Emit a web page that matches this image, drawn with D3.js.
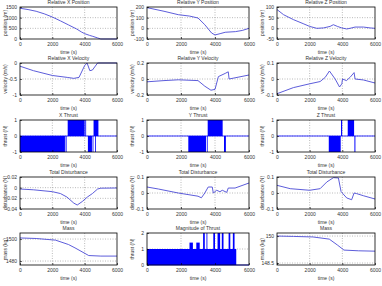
<!DOCTYPE html>
<html>
<head>
<meta charset="utf-8">
<script src="https://cdn.jsdelivr.net/npm/d3@7"></script>
<style>
  body { margin: 0; background: #fff; }
  svg text { font-family: "Liberation Sans", Arial, sans-serif; fill: #333; }
</style>
</head>
<body>
<div id="chart"></div>
<script>
// time axis shared by every panel
const timeTicks = [0, 2000, 4000, 6000];

// curve data, [time s, value]
const relXPos = [[0,1440],[500,1380],[1000,1300],[1500,1180],[2000,1030],[2500,850],[3000,660],[3500,470],[3800,330],[4000,250],[4300,170],[4500,125],[4800,50],[5000,0],[6000,0]];
const relYPos = [[0,194],[1000,160],[1840,128],[2500,115],[3000,97],[3400,34],[3800,-44],[4000,-62],[4300,-50],[4600,-37],[5200,-31],[5600,-20],[6000,0]];
const relZPos = [[0,88],[400,64],[1000,41],[1600,22],[2000,9],[2440,0],[2850,2],[3250,9],[3450,17],[3700,9],[3960,2],[4270,-3],[4470,0],[4780,6],[5290,6],[5700,2],[6000,0]];
const relXVel = [[0,-0.1],[830,-0.24],[2000,-0.39],[2920,-0.45],[3330,-0.48],[3650,-0.45],[4000,-0.08],[4150,0],[4320,-0.24],[4480,-0.22],[4800,0],[6000,0]];
const relYVel = [[0,-0.035],[1000,-0.02],[1840,-0.01],[3000,-0.02],[3400,-0.09],[3760,-0.14],[4000,-0.13],[4200,0.03],[4600,0.07],[4780,0.09],[4830,0],[5180,0.015],[6000,0.05]];
const relZVel = [[0,-0.092],[1000,-0.054],[2000,-0.03],[2640,-0.016],[2950,0.01],[3210,0.05],[3560,0],[3830,-0.05],[3970,-0.03],[4010,0],[4250,-0.01],[4470,0.01],[4720,0.04],[4780,0],[5290,-0.006],[6000,-0.025]];
const distX = [[0,-0.0025],[830,-0.004],[2000,-0.0075],[2500,-0.011],[2900,-0.0175],[3330,-0.029],[3540,-0.0325],[3850,-0.026],[4170,-0.0175],[4480,-0.011],[4800,-0.0025],[5000,-0.001],[6000,-0.0006]];
const distY = [[0,0.0375],[670,0.025],[1840,0],[3000,-0.02],[3200,-0.03],[3400,0],[3600,0.0375],[3840,0.0375],[3900,0],[4100,0.017],[4290,0.008],[4430,0.017],[4690,0.004],[4780,0.031],[5180,0.031],[6000,0.0625]];
const distZ = [[0,0.048],[810,0.027],[2000,0.017],[2640,0.027],[3050,0.069],[3460,0.096],[3760,0.094],[3920,0.01],[4030,-0.004],[4270,-0.031],[4570,-0.042],[4720,0],[4880,-0.004],[5290,-0.017],[6000,-0.0375]];
const massA = [[0,1501],[1000,1500.5],[2200,1499],[3000,1495],[3400,1492],[4250,1485],[5000,1484.5],[6000,1484.5]];
const massB = [[0,150],[1000,149.98],[2200,149.95],[3200,149.83],[3700,149.5],[4100,149.22],[5000,149.18],[6000,149.16]];

// thrust on/off intervals [start s, end s, level]
const thrustX = [[0,2780,-1],[2820,2880,-1],[2950,4000,1],[4040,4070,1],[4200,4450,-1],[4490,4510,-1],[4550,4850,1],[4640,4660,-1]];
const thrustY = [[2430,3470,-1],[3520,3540,-1],[3570,4450,1],[4530,4640,-1]];
const thrustZ = [[3170,3900,-1],[3920,3990,1],[4330,4720,1],[4740,4800,-1]];
const thrustMag = [[0,5250,1],[2500,2700,1.4],[2900,3100,1.4],[3300,3400,2],[3500,3550,2],[3900,4000,2],[4150,4300,2],[4400,4500,2],[4800,4900,2],[5050,5150,2]];

const panels = [
  {title: "Relative X Position", ylabel: "position (m)", yDomain: [0, 1500], yTicks: [0, 500, 1000, 1500], line: relXPos},
  {title: "Relative Y Position", ylabel: "position (m)", yDomain: [-100, 200], yTicks: [-100, 0, 100, 200], line: relYPos},
  {title: "Relative Z Position", ylabel: "position (m)", yDomain: [-50, 100], yTicks: [-50, 0, 50, 100], line: relZPos},
  {title: "Relative X Velocity", ylabel: "velocity (m/s)", yDomain: [-1, 0], yTicks: [-1, -0.5, 0], line: relXVel},
  {title: "Relative Y Velocity", ylabel: "velocity (m/s)", yDomain: [-0.2, 0.2], yTicks: [-0.2, 0, 0.2], line: relYVel},
  {title: "Relative Z Velocity", ylabel: "velocity (m/s)", yDomain: [-0.1, 0.1], yTicks: [-0.1, 0, 0.1], line: relZVel},
  {title: "X Thrust", ylabel: "thrust (N)", yDomain: [-1, 1], yTicks: [-1, 0, 1], bars: thrustX},
  {title: "Y Thrust", ylabel: "thrust (N)", yDomain: [-1, 1], yTicks: [-1, 0, 1], bars: thrustY},
  {title: "Z Thrust", ylabel: "thrust (N)", yDomain: [-1, 1], yTicks: [-1, 0, 1], bars: thrustZ},
  {title: "Total Disturbance", ylabel: "disturbance (N)", yDomain: [-0.04, 0.02], yTicks: [-0.04, -0.02, 0, 0.02], line: distX},
  {title: "Total Disturbance", ylabel: "disturbance (N)", yDomain: [-0.1, 0.1], yTicks: [-0.1, 0, 0.1], line: distY},
  {title: "Total Disturbance", ylabel: "disturbance (N)", yDomain: [-0.1, 0.1], yTicks: [-0.1, 0, 0.1], line: distZ},
  {title: "Mass", ylabel: "mass (kg)", yDomain: [1476.4, 1505.5], yTicks: [1480, 1500], line: massA},
  {title: "Magnitude of Thrust", ylabel: "thrust (N)", yDomain: [0, 2], yTicks: [0, 1, 2], bars: thrustMag},
  {title: "Mass", ylabel: "mass (kg)", yDomain: [148.39, 150.17], yTicks: [148.5, 150], line: massB}
];

const W = 382, H = 286;
const cols = [[20, 117], [147, 249], [277, 375]];
const rowTops = [7, 63, 120, 177, 233];
const ph = 32;
const lineColor = "#4b4bd6";
const fmt = d => String(d);

const svg = d3.select("#chart").append("svg")
  .attr("width", W).attr("height", H);

panels.forEach((p, i) => {
  const c = cols[i % 3], top = rowTops[Math.floor(i / 3)];
  const x = d3.scaleLinear().domain([0, 6000]).range([c[0], c[1]]);
  const y = d3.scaleLinear().domain(p.yDomain).range([top + ph, top]);
  const g = svg.append("g");

  // grid
  g.selectAll(".gx").data(timeTicks.slice(1, -1)).join("line")
    .attr("x1", d => x(d)).attr("x2", d => x(d))
    .attr("y1", top).attr("y2", top + ph)
    .attr("stroke", "#777").attr("stroke-width", 0.5).attr("stroke-dasharray", "1,1.5");
  g.selectAll(".gy").data(p.yTicks.filter(d => d > p.yDomain[0] && d < p.yDomain[1])).join("line")
    .attr("x1", c[0]).attr("x2", c[1])
    .attr("y1", d => y(d)).attr("y2", d => y(d))
    .attr("stroke", "#777").attr("stroke-width", 0.5).attr("stroke-dasharray", "1,1.5");

  // marks
  if (p.line) {
    g.append("path").datum(p.line)
      .attr("fill", "none").attr("stroke", lineColor).attr("stroke-width", 0.9)
      .attr("d", d3.line().x(d => x(d[0])).y(d => y(d[1])));
  }
  if (p.bars) {
    g.selectAll("rect.bar").data(p.bars).join("rect")
      .attr("x", d => x(d[0]))
      .attr("width", d => Math.max(0.8, x(d[1]) - x(d[0])))
      .attr("y", d => Math.min(y(d[2]), y(0)))
      .attr("height", d => Math.abs(y(d[2]) - y(0)))
      .attr("fill", "#0000ff");
    g.append("line")
      .attr("x1", c[0]).attr("x2", c[1]).attr("y1", y(0)).attr("y2", y(0))
      .attr("stroke", "#0000ff").attr("stroke-width", 0.8);
  }

  // box
  g.append("rect").attr("x", c[0]).attr("y", top)
    .attr("width", c[1] - c[0]).attr("height", ph)
    .attr("fill", "none").attr("stroke", "#000").attr("stroke-width", 0.8);

  // axes with inward ticks
  const xAxis = d3.axisBottom(x).tickValues(timeTicks).tickSize(-2).tickPadding(3).tickFormat(fmt);
  const yAxis = d3.axisLeft(y).tickValues(p.yTicks).tickSize(-2).tickPadding(3).tickFormat(fmt);
  const xg = g.append("g").attr("transform", `translate(0,${top + ph})`).call(xAxis);
  const yg = g.append("g").attr("transform", `translate(${c[0]},0)`).call(yAxis);
  [xg, yg].forEach(a => {
    a.select(".domain").remove();
    a.selectAll("line").attr("stroke", "#000").attr("stroke-width", 0.6);
    a.selectAll("text").attr("font-size", 5).attr("fill", "#333")
      .style("font-family", "Liberation Sans, Arial, sans-serif");
  });

  g.append("text").attr("x", (c[0] + c[1]) / 2).attr("y", top - 3)
    .attr("text-anchor", "middle").attr("font-size", 5).text(p.title);
  g.append("text").attr("x", (c[0] + c[1]) / 2).attr("y", top + ph + 15)
    .attr("text-anchor", "middle").attr("font-size", 5).text("time (s)");
  g.append("text")
    .attr("transform", `translate(${c[0] - 13},${top + ph / 2}) rotate(-90)`)
    .attr("text-anchor", "middle").attr("font-size", 5).text(p.ylabel);
});
</script>
</body>
</html>
